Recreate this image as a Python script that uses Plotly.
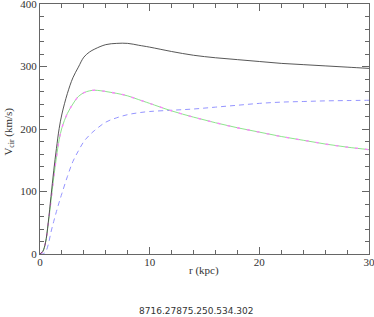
import plotly.graph_objects as go

r_kpc = [0, 0.25, 0.5, 0.75, 1.0, 1.25, 1.5, 1.75, 2.0, 2.5, 3.0, 3.5, 4.0, 4.5, 5, 6, 7, 8, 9, 10,
         12, 14, 16, 18, 20, 22, 24, 26, 28, 30]
v_total = [0, 4, 18, 50, 92, 133, 169, 201, 224, 257, 282, 299, 315, 323, 328, 335, 337, 337, 334, 331,
           324, 318, 314, 311, 308, 305, 303, 301, 299, 297]
v_stars = [0, 4, 18, 48, 85, 122, 155, 183, 202, 225, 240, 252, 258, 261, 262, 260, 257, 253, 247, 241,
           229, 219, 210, 202, 195, 188, 182, 176, 171, 167]
v_stars2 = list(v_stars)
v_halo = [0, 0, 3, 15, 35, 52, 68, 83, 97, 124, 148, 165, 180, 190, 198, 211, 218, 223, 226, 228,
          230, 232, 235, 238, 241, 243, 244, 245, 245.5, 246]

x_ticks = [0, 10, 20, 30]
y_ticks = [0, 100, 200, 300, 400]
label = "8716.27875.250.534.302"

fig = go.Figure()
fig.add_trace(go.Scatter(x=r_kpc, y=v_halo, mode="lines", line=dict(color="#8888ff", width=0.9, dash="5px,4px", shape="spline")))
fig.add_trace(go.Scatter(x=r_kpc, y=v_stars, mode="lines", line=dict(color="#80e080", width=0.9, shape="spline")))
fig.add_trace(go.Scatter(x=r_kpc, y=v_stars2, mode="lines", line=dict(color="#ff80ff", width=1.3, dash="3px,7px", shape="spline")))
fig.add_trace(go.Scatter(x=r_kpc, y=v_total, mode="lines", line=dict(color="#444444", width=0.9, shape="spline")))

axis_common = dict(
    showgrid=False, zeroline=False, showline=True, linecolor="#666666", linewidth=1,
    mirror="allticks", ticks="inside", ticklen=7, tickcolor="#666666", tickwidth=1,
    tickfont=dict(family="Liberation Serif", size=11, color="#333333"), automargin=False,
    ticklabeloverflow="allow",
)
fig.update_xaxes(range=[0, 30], tickvals=x_ticks, ticklabelstandoff=-2,
                 minor=dict(dtick=2, ticks="inside", ticklen=4, tickcolor="#666666"),
                 **axis_common)
fig.update_yaxes(range=[0, 400], tickvals=y_ticks,
                 minor=dict(dtick=20, ticks="inside", ticklen=4, tickcolor="#666666"),
                 **axis_common)
title_font = dict(family="Liberation Serif", size=11, color="#333333")
fig.add_annotation(text="r (kpc)", xref="paper", yref="paper", x=0.497, y=-0.064, yanchor="middle",
                   xanchor="center", showarrow=False, font=title_font)
fig.add_annotation(text="V<sub>cir</sub> (km/s)", xref="paper", yref="paper", x=-0.097, y=0.49,
                   xanchor="center", yanchor="middle", textangle=-90, showarrow=False, font=title_font)
fig.add_annotation(text=label, xref="paper", yref="paper", x=0.477, y=-0.227, yanchor="middle",
                   showarrow=False, font=dict(family="DejaVu Sans", size=9, color="#333333"))
fig.update_layout(width=374, height=317, margin=dict(l=40, r=5, t=4, b=63),
                  paper_bgcolor="white", plot_bgcolor="white", showlegend=False)
fig.write_html("out.html", config={"displayModeBar": False},
               post_script="document.body.style.margin='0px';document.body.style.overflow='hidden';")
